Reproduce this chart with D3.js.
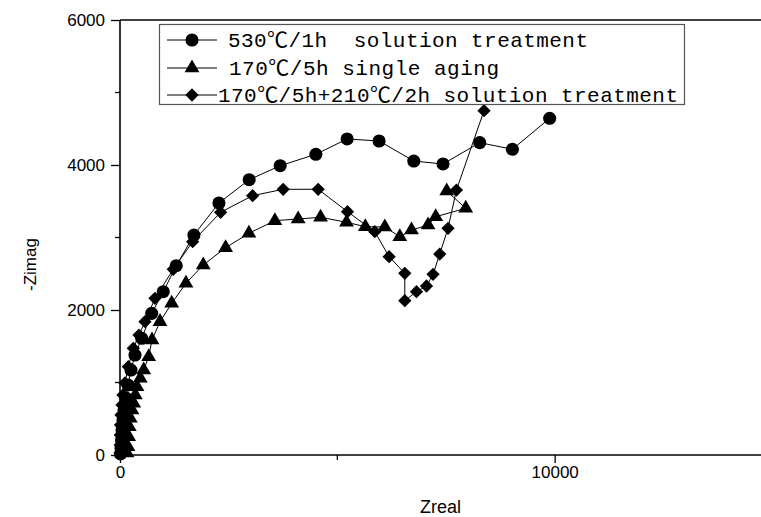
<!DOCTYPE html>
<html>
<head>
<meta charset="utf-8">
<script src="https://cdn.jsdelivr.net/npm/d3@7"></script>
<style>
  html, body { margin: 0; padding: 0; background: #fff; }
  svg { display: block; }
</style>
</head>
<body>
<div id="chart"></div>
<script>
// ---- data (Zreal, -Zimag) ----
const seriesNames = [
  "530\u2103/1h  solution treatment",
  "170\u2103/5h single aging",
  "170\u2103/5h+210\u2103/2h solution treatment"
];
const solutionZreal = [11, 23, 34, 46, 69, 92, 138, 184, 253, 345, 499, 729, 995, 1294, 1701, 2276, 2972, 3685, 4506, 5225, 5961, 6759, 7432, 8276, 9028, 9885];
const solutionZimag = [14, 97, 207, 345, 483, 621, 786, 966, 1172, 1379, 1610, 1954, 2252, 2611, 3034, 3476, 3797, 3990, 4148, 4359, 4331, 4055, 4014, 4308, 4217, 4644];

const singleZreal = [161, 184, 200, 214, 237, 276, 315, 352, 391, 467, 545, 660, 736, 920, 1189, 1517, 1915, 2430, 2966, 3563, 4099, 4614, 5211, 5644, 6092, 6437, 6706, 7087, 7264, 7954, 7517];
const singleZimag = [28, 114, 252, 390, 506, 621, 713, 828, 942, 1058, 1172, 1356, 1586, 1839, 2092, 2368, 2621, 2859, 3058, 3232, 3255, 3279, 3210, 3149, 3145, 3011, 3103, 3172, 3287, 3403, 3641];

const doubleZreal = [0, 5, 7, 11, 23, 46, 69, 115, 191, 306, 437, 575, 805, 1225, 1671, 2315, 3051, 3754, 4559, 5234, 5862, 6191, 6552, 6552, 6821, 7051, 7202, 7356, 7547, 7740, 8375];
const doubleZimag = [28, 138, 276, 414, 552, 690, 828, 993, 1218, 1472, 1655, 1839, 2161, 2561, 2942, 3348, 3577, 3665, 3665, 3356, 3080, 2735, 2506, 2128, 2252, 2331, 2492, 2772, 3127, 3655, 4749];

const xTickValues = [0, 10000];
const xMinorTicks = [5000];
const yTickValues = [0, 2000, 4000, 6000];
const yMinorTicks = [1000, 3000, 5000];

// ---- layout ----
const W = 761, H = 517;
const mLeft = 120, mRight = 772, mTop = 20, mBottom = 455;

const svg = d3.select("#chart").append("svg")
  .attr("width", W).attr("height", H)
  .style("font-family", "'Liberation Sans', Arial, sans-serif");

const x = d3.scaleLinear().domain([0, 15000]).range([mLeft, mRight]);
const y = d3.scaleLinear().domain([0, 6000]).range([mBottom, mTop]);

// top frame line
svg.append("line").attr("x1", mLeft).attr("x2", W).attr("y1", mTop).attr("y2", mTop)
  .attr("stroke", "#000").attr("stroke-width", 1.6);

// axes
const xAxis = d3.axisBottom(x).tickValues(xTickValues).tickSize(8).tickPadding(3).tickFormat(d3.format("d"));
const gx = svg.append("g").attr("transform", `translate(0,${mBottom})`).call(xAxis);
gx.select(".domain").attr("d", `M${mLeft},0H${W}`).attr("stroke-width", 1.6);
gx.selectAll(".tick line").attr("stroke-width", 1.3);
gx.selectAll("text").attr("font-size", 17).attr("fill", "#000");
gx.append("g").selectAll("line").data(xMinorTicks).join("line")
  .attr("x1", d => x(d)).attr("x2", d => x(d)).attr("y1", 0).attr("y2", 5)
  .attr("stroke", "#000").attr("stroke-width", 1.3);

const yAxis = d3.axisLeft(y).tickValues(yTickValues).tickSize(9).tickPadding(6).tickFormat(d3.format("d"));
const gy = svg.append("g").attr("transform", `translate(${mLeft},0)`).call(yAxis);
gy.select(".domain").attr("d", `M0,${mTop}V${mBottom}`).attr("stroke-width", 1.6);
gy.selectAll(".tick line").attr("stroke-width", 1.3);
gy.selectAll("text").attr("font-size", 17).attr("fill", "#000");
gy.append("g").selectAll("line").data(yMinorTicks).join("line")
  .attr("x1", 0).attr("x2", -5).attr("y1", d => y(d)).attr("y2", d => y(d))
  .attr("stroke", "#000").attr("stroke-width", 1.3);

// axis titles
svg.append("text").attr("x", (mLeft + W) / 2).attr("y", 513).attr("text-anchor", "middle")
  .attr("font-size", 18).text("Zreal");
svg.append("text").attr("transform", `translate(36,${(mTop + mBottom) / 2 + 27}) rotate(-90)`)
  .attr("text-anchor", "middle").attr("font-size", 17).text("-Zimag");

// symbols
const circleSym = d3.symbol().type(d3.symbolCircle).size(135);
const triSym = d3.symbol().type(d3.symbolTriangle).size(95);
const diaSym = d3.symbol().type(d3.symbolSquare).size(88);

const series = [
  { xs: solutionZreal, ys: solutionZimag, sym: circleSym, rot: 0 },
  { xs: singleZreal, ys: singleZimag, sym: triSym, rot: 0 },
  { xs: doubleZreal, ys: doubleZimag, sym: diaSym, rot: 45 }
];

const line = d3.line().x(d => x(d[0])).y(d => y(d[1]));
const plot = svg.append("g");
series.forEach(s => {
  const pts = s.xs.map((v, i) => [v, s.ys[i]]);
  plot.append("path").datum(pts).attr("d", line)
    .attr("fill", "none").attr("stroke", "#000").attr("stroke-width", 1);
});
series.forEach(s => {
  const pts = s.xs.map((v, i) => [v, s.ys[i]]);
  plot.append("g").selectAll("path").data(pts).join("path")
    .attr("d", s.sym())
    .attr("transform", d => `translate(${x(d[0])},${y(d[1])}) rotate(${s.rot})`)
    .attr("fill", "#000");
});

// legend
const lg = svg.append("g");
lg.append("rect").attr("x", 159.5).attr("y", 24.5).attr("width", 525).attr("height", 80)
  .attr("fill", "#fff").attr("stroke", "#555").attr("stroke-width", 1.2);
const rowY = [40, 68, 95];
const textX = [228, 229, 218];
const textLen = [360, 270, 460];
seriesNames.forEach((name, i) => {
  lg.append("line").attr("x1", 167).attr("x2", 217).attr("y1", rowY[i]).attr("y2", rowY[i])
    .attr("stroke", "#000").attr("stroke-width", 1);
  lg.append("path").attr("d", series[i].sym())
    .attr("transform", `translate(192,${rowY[i]}) rotate(${series[i].rot})`).attr("fill", "#000");
  lg.append("text").attr("x", textX[i]).attr("y", rowY[i] + 7)
    .attr("font-family", "'Liberation Mono', 'Noto Sans CJK SC', monospace")
    .attr("font-size", 21).style("white-space", "pre")
    .attr("textLength", textLen[i]).attr("lengthAdjust", "spacing")
    .text(name);
});
</script>
</body>
</html>
